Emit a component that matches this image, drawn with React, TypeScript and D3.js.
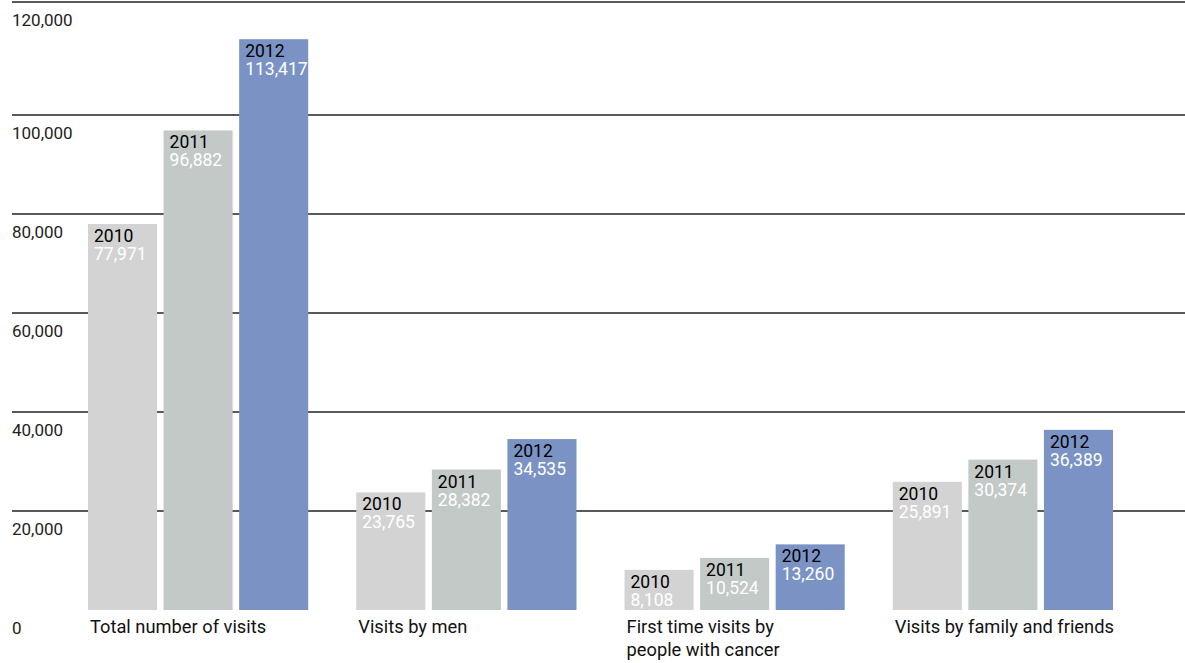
import * as d3 from "d3";

const WIDTH = 1185;
const HEIGHT = 663;

const categories = [
  ["Total number of visits"],
  ["Visits by men"],
  ["First time visits by", "people with cancer"],
  ["Visits by family and friends"],
];
const years = ["2010", "2011", "2012"];
const values2010 = [77971, 23765, 8108, 25891];
const values2011 = [96882, 28382, 10524, 30374];
const values2012 = [113417, 34535, 13260, 36389];
const yTicks = [0, 20000, 40000, 60000, 80000, 100000, 120000];

const COLORS = ["#d3d3d3", "#c2c9c7", "#7b93c4"];
const FONT = "Roboto, 'Noto Sans', sans-serif";

export default function App() {
  const series = [values2010, values2011, values2012];

  // the original's top step is a little taller than the others
  const y = d3.scaleLinear().domain([0, 100000, 120000]).range([610, 115, 2]);

  const x0 = d3
    .scaleBand<number>()
    .domain(d3.range(categories.length))
    .range([88, 1113])
    .paddingInner(48 / 268);

  const x1 = d3
    .scaleBand<string>()
    .domain(years)
    .range([0, x0.bandwidth()])
    .paddingInner(6.5 / 75.5);

  const fmt = d3.format(",");

  return (
    <svg
      width={WIDTH}
      height={HEIGHT}
      style={{ position: "absolute", left: 0, top: 0 }}
      fontFamily={FONT}
    >
      <g>
        {yTicks.map((t) => (
          <g key={t}>
            {t > 0 && (
              <line x1={12} x2={WIDTH} y1={y(t)} y2={y(t)} stroke="#222" strokeWidth={1.5} />
            )}
            <text x={12} y={y(t) + 24} fontSize={17} fill="#222">
              {fmt(t)}
            </text>
          </g>
        ))}
      </g>
      {categories.map((lines, ci) => (
        <g key={ci} transform={`translate(${x0(ci)},0)`}>
          {years.map((yr, si) => {
            const v = series[si][ci];
            const bx = x1(yr) ?? 0;
            const top = y(v);
            return (
              <g key={yr}>
                <rect x={bx} y={top} width={x1.bandwidth()} height={y(0) - top} fill={COLORS[si]} />
                <text x={bx + 6} y={top + 18} fontSize={17.5} fill="#000">
                  {yr}
                </text>
                <text x={bx + 6} y={top + 36} fontSize={17.5} fill="#fff">
                  {fmt(v)}
                </text>
              </g>
            );
          })}
          {lines.map((l, li) => (
            <text key={li} x={2} y={633 + li * 23} fontSize={18.3} fill="#111">
              {l}
            </text>
          ))}
        </g>
      ))}
    </svg>
  );
}
